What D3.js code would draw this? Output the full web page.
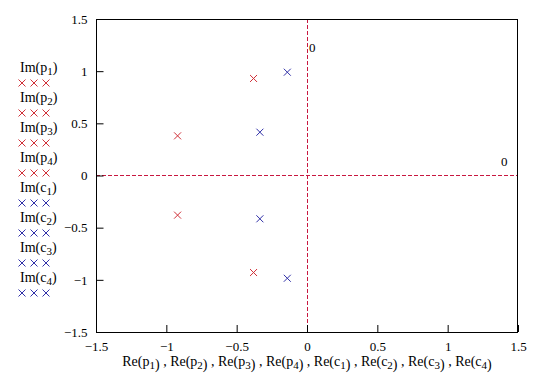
<!DOCTYPE html>
<html><head><meta charset="utf-8">
<script src="https://cdn.jsdelivr.net/npm/d3@7"></script>
<style>body{margin:0;background:#fff}svg text{font-family:"Liberation Serif","Times New Roman",serif !important;}</style>
</head><body>
<svg id="c" width="547" height="374"></svg>
<script>
const pRe = [-0.92, -0.38, -0.38, -0.92];
const pIm = [0.38, 0.93, -0.93, -0.38];
const cRe = [-0.14, -0.335, -0.335, -0.14];
const cIm = [0.99, 0.415, -0.415, -0.985];
const xTicks = [-1.5, -1, -0.5, 0, 0.5, 1, 1.5];
const yTicks = [-1.5, -1, -0.5, 0, 0.5, 1, 1.5];
const legendNames = [["p","1"],["p","2"],["p","3"],["p","4"],["c","1"],["c","2"],["c","3"],["c","4"]];
const RED = "#d03038", BLUE = "#3030a8", MARK = "#c81840";
const FONT = '"Liberation Serif","Times New Roman",serif';

const svg = d3.select("#c");
const L = 96, R = 518, T = 19, B = 332;
const x = d3.scaleLinear().domain([-1.5, 1.5]).range([L, R]);
const y = d3.scaleLinear().domain([-1.5, 1.5]).range([B, T]);

// marker lines
svg.append("line").attr("x1", Math.round(x(0)) + 0.5).attr("x2", Math.round(x(0)) + 0.5).attr("y1", T).attr("y2", B)
  .style("stroke", MARK).attr("stroke-dasharray", "4,2");
svg.append("line").attr("x1", L).attr("x2", R).attr("y1", y(0)).attr("y2", y(0))
  .style("stroke", MARK).attr("stroke-dasharray", "4,2");
svg.append("text").attr("x", x(0) + 2).attr("y", y(1.2) + 2).attr("font-size", 13).style("font-family", FONT).text("0");
svg.append("text").attr("x", x(1.38)).attr("y", y(0.1) + 1).attr("font-size", 13).style("font-family", FONT).text("0");

// frame
svg.append("rect").attr("x", L + 0.5).attr("y", T + 0.5).attr("width", R - L - 1).attr("height", B - T)
  .attr("fill", "none").attr("stroke", "#000");

// axes ticks inward
const gx = svg.append("g").attr("transform", `translate(0,${B})`)
  .call(d3.axisBottom(x).tickValues(xTicks).tickSize(-7).tickPadding(10).tickFormat(d3.format("")));
const gy = svg.append("g").attr("transform", `translate(${L + 0.5},0)`)
  .call(d3.axisLeft(y).tickValues(yTicks).tickSize(-7).tickPadding(9).tickFormat(d3.format("")));
[gx, gy].forEach(g => {
  g.attr("font-family", FONT);
  g.select(".domain").remove();
  g.selectAll("text").attr("font-size", 13).attr("fill", "#000").style("font-family", FONT)
    .text(d => d < 0 ? "\u2212" + Math.abs(d) : d);
});

function cross(sel, cx, cy, color) {
  const s = 3.5;
  sel.append("path").attr("d", `M${cx - s},${cy - s}L${cx + s},${cy + s}M${cx - s},${cy + s}L${cx + s},${cy - s}`)
    .style("stroke", color).attr("stroke-width", 1).attr("fill", "none");
}
const pts = svg.append("g");
pRe.forEach((d, i) => cross(pts, x(d), y(pIm[i]), RED));
cRe.forEach((d, i) => cross(pts, x(d), y(cIm[i]), BLUE));

// legend
legendNames.forEach((n, i) => {
  const yy = 72 + i * 30;
  const t = svg.append("text").attr("x", 20).attr("y", yy).attr("font-size", 14).style("font-family", FONT);
  t.append("tspan").text("Im(" + n[0]);
  t.append("tspan").attr("font-size", 11).attr("dy", 3).text(n[1]);
  t.append("tspan").attr("dy", -3).text(")");
  const col = n[0] === "p" ? RED : BLUE;
  [22, 34, 46].forEach(mx => cross(svg, mx, yy + 11, col));
});

// x label
const xl = svg.append("text").attr("x", x(0)).attr("y", 366).attr("font-size", 14)
  .style("font-family", FONT).attr("text-anchor", "middle");
legendNames.forEach((n, i) => {
  xl.append("tspan").attr("dy", i === 0 ? 0 : -3).text((i > 0 ? " , " : "") + "Re(" + n[0]);
  xl.append("tspan").attr("font-size", 11).attr("dy", 3).text(n[1]);
  xl.append("tspan").attr("dy", 0).text(")");
});
</script>
</body></html>
